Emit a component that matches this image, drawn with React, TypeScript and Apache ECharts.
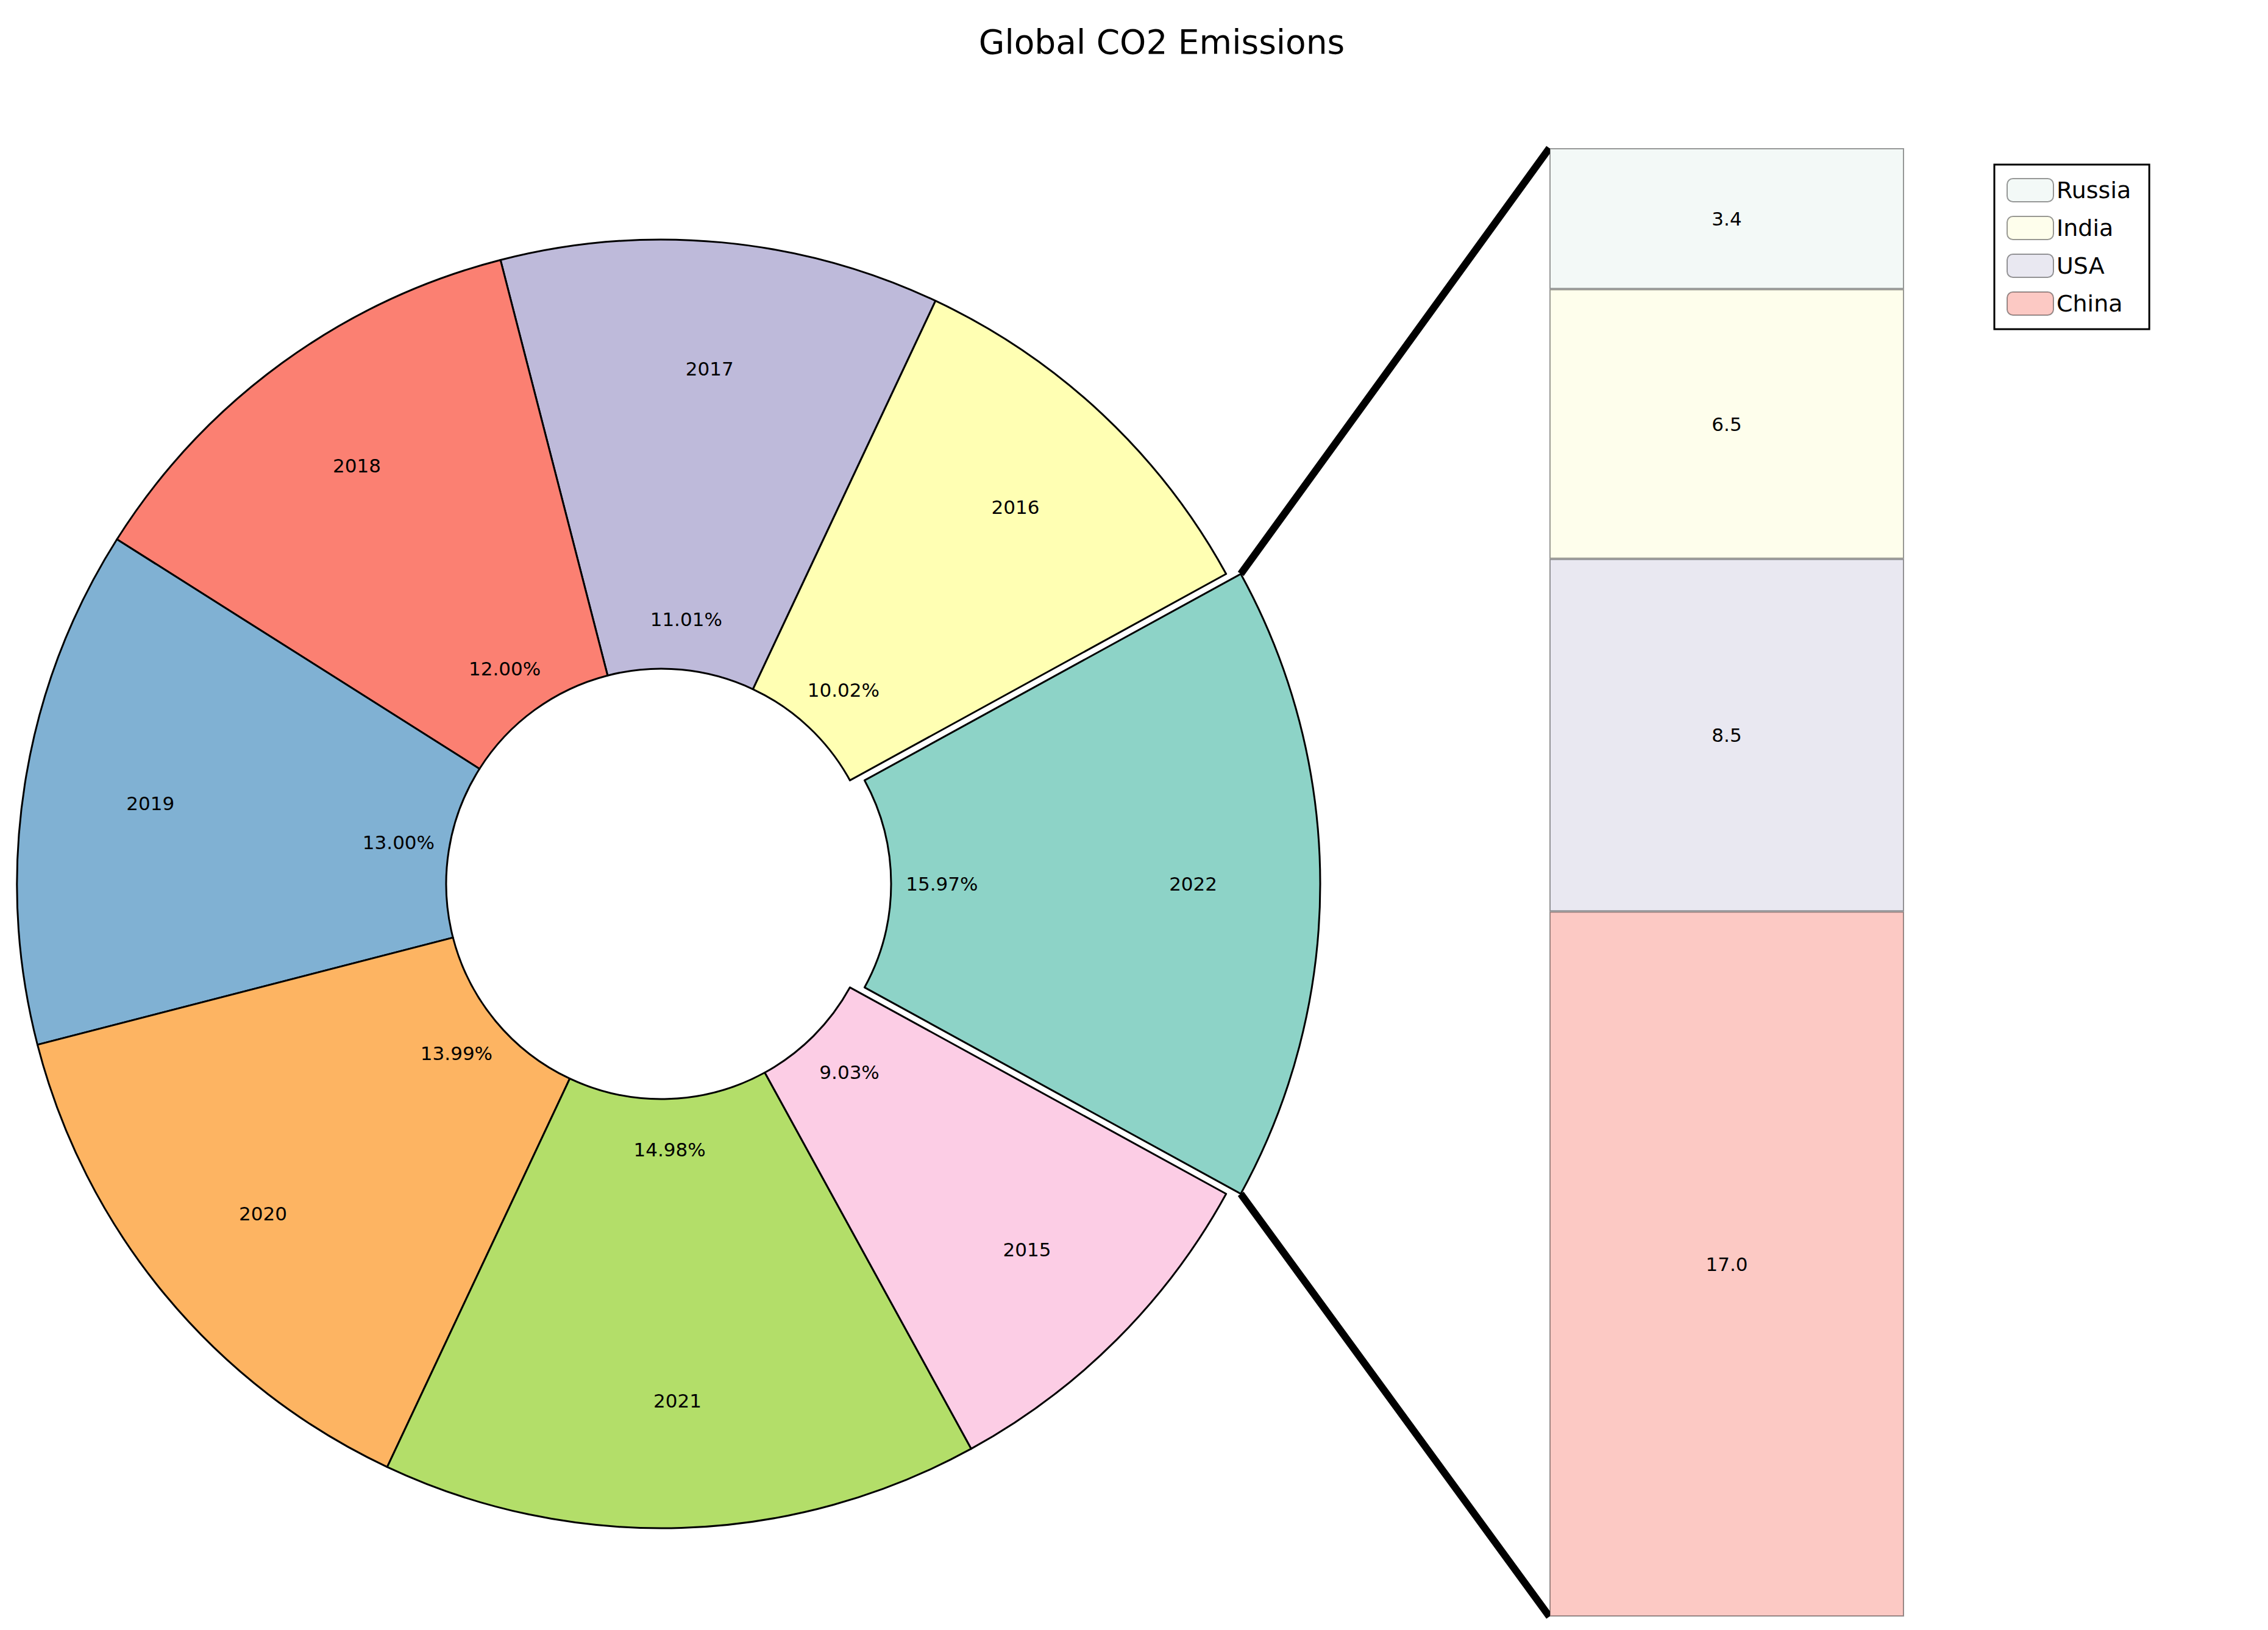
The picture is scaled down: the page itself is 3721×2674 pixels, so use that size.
import React, { useEffect, useRef } from "react";
import * as echarts from "echarts";

const years = ["2022", "2016", "2017", "2018", "2019", "2020", "2021", "2015"];
const emissions = [35.4, 22.2, 24.4, 26.6, 28.8, 31.0, 33.2, 20.0];
const pieColors = ["#8dd3c7", "#ffffb3", "#bebada", "#fb8072", "#80b1d3", "#fdb462", "#b3de69", "#fccde5"];
const countries = ["China", "USA", "India", "Russia"];
const countryValues = [17.0, 8.5, 6.5, 3.4];
const barColors = ["#fcc9c4", "#e9e8f1", "#fefeec", "#f3f9f7"];

export default function App() {
  const ref = useRef<HTMLDivElement>(null);
  useEffect(() => {
    document.body.style.margin = "0";
    const chart = echarts.init(ref.current!, null, { renderer: "svg" });
    const total = emissions.reduce((a, b) => a + b, 0);
    const half = (emissions[0] / total) * 180;
    const startAngle = 360 - half;
    const cx = 1085, cy = 1450, R = 1057, r0 = 353, ex = 24;
    const rad = (half * Math.PI) / 180;
    const tipX = cx + ex + R * Math.cos(rad);
    const tipTop = cy - R * Math.sin(rad);
    const tipBot = cy + R * Math.sin(rad);
    const barL = 2542, barT = 243, barW = 582, barH = 2409;
    const font = "DejaVu Sans";
    const base = {
      type: "pie", clockwise: false, startAngle, animation: false, silent: true,
    };
    const mk = (fn: (i: number) => any) => years.map((y, i) => ({ name: y, value: emissions[i], ...fn(i) }));
    const series: any[] = [
      {
        ...base, center: [cx, cy], radius: [r0, R], label: { show: false },
        data: mk((i) => ({
          itemStyle: i === 0 ? { color: "rgba(0,0,0,0)", borderWidth: 0 } : { color: pieColors[i], borderColor: "#000", borderWidth: 3 },
        })),
      },
      {
        ...base, center: [cx + ex, cy], radius: [r0, R], label: { show: false },
        data: mk((i) => ({
          itemStyle: i === 0 ? { color: pieColors[0], borderColor: "#000", borderWidth: 3 } : { color: "rgba(0,0,0,0)", borderWidth: 0 },
        })),
      },
      {
        ...base, center: [cx, cy], radius: [R * 0.6, R], z: 5,
        itemStyle: { color: "rgba(0,0,0,0)" },
        label: { show: true, position: "inside", formatter: "{b}", fontSize: 31, color: "#000", fontFamily: font },
        data: mk((i) => ({ label: i === 0 ? { offset: [ex, 0] } : {} })),
      },
      {
        ...base, center: [cx, cy], radius: [R * 0.33, R * 0.49], z: 5,
        itemStyle: { color: "rgba(0,0,0,0)" },
        label: { show: true, position: "inside", formatter: (p: any) => p.percent.toFixed(2) + "%", fontSize: 31, color: "#000", fontFamily: font },
        percentPrecision: 2,
        data: mk((i) => ({ label: i === 0 ? { offset: [ex, 0] } : {} })),
      },
      ...countries.map((c, i) => ({
        type: "bar", name: c, stack: "s", barWidth: "100%", data: [countryValues[i]],
        itemStyle: { color: barColors[i], borderColor: "rgba(0,0,0,0.4)", borderWidth: 2 },
        label: { show: true, position: "inside", formatter: (p: any) => p.value.toFixed(1), fontSize: 31, color: "#000", fontFamily: font },
      })),
    ];
    chart.setOption({
      animation: false,
      title: {
        text: "Global CO2 Emissions", left: 1901, top: 36, textAlign: "center",
        textStyle: { fontSize: 55, fontWeight: "normal", color: "#000", fontFamily: font },
      },
      grid: { left: barL, top: barT, width: barW, height: barH },
      xAxis: { type: "category", data: ["2022"], show: false },
      yAxis: { type: "value", min: 0, max: 35.4, show: false },
      legend: {
        data: ["Russia", "India", "USA", "China"],
        orient: "vertical", left: 3272, top: 270, itemGap: 22, itemWidth: 76, itemHeight: 38,
        padding: [22, 30, 22, 20], borderColor: "#000", borderWidth: 3, backgroundColor: "#fff", borderRadius: 0,
        textStyle: { fontSize: 38, color: "#000", fontFamily: font },
      },
      graphic: [
        { type: "line", shape: { x1: tipX, y1: tipTop, x2: barL, y2: barT }, style: { stroke: "#000", lineWidth: 12 } },
        { type: "line", shape: { x1: tipX, y1: tipBot, x2: barL, y2: barT + barH }, style: { stroke: "#000", lineWidth: 12 } },
      ],
      series,
    });
    return () => chart.dispose();
  }, []);
  return <div ref={ref} style={{ width: 3721, height: 2674, background: "#fff" }} />;
}
